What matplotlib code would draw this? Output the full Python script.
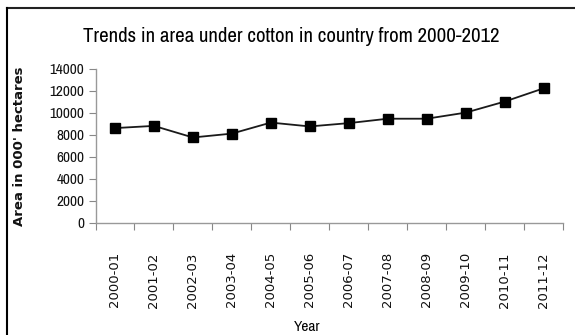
import matplotlib
matplotlib.use("Agg")
import matplotlib.pyplot as plt
from matplotlib.lines import Line2D

years = ["2000-01", "2001-02", "2002-03", "2003-04", "2004-05", "2005-06",
         "2006-07", "2007-08", "2008-09", "2009-10", "2010-11", "2011-12"]
area = [8600, 8800, 7750, 8100, 9100, 8750, 9050, 9450, 9450, 10000, 11000, 12200]
yticks = [0, 2000, 4000, 6000, 8000, 10000, 12000, 14000]

narrow = ["Archivo Narrow", "Roboto Condensed", "DejaVu Sans"]

W, H = 575, 335
fig = plt.figure(figsize=(W / 100, H / 100), dpi=100)
ax = fig.add_axes([95.5 / W, 1 - 223 / H, (563 - 95.5) / W, (223 - 68.5) / H])

x = list(range(len(years)))
ax.plot(x, area, color="#1a1a1a", lw=1.3, marker="s", ms=7.5,
        mfc="black", mec="black")

ax.set_xlim(-0.5, len(years) - 0.5)
ax.set_ylim(0, 14000)
ax.set_yticks(yticks)
ax.set_yticklabels([str(v) for v in yticks], fontfamily=narrow, fontsize=11,
                   color="#111111")
ax.set_xticks([i - 0.5 for i in range(len(years) + 1)], minor=False)
ax.set_xticklabels([])
ax.set_xticks(x, minor=True)
ax.set_xticklabels(years, minor=True, rotation=90, fontfamily="DejaVu Sans",
                   fontsize=9.5, color="#111111")
ax.tick_params(axis="x", which="minor", length=0, pad=21)
ax.tick_params(axis="x", which="major", length=5, color="#888888", direction="out")
ax.tick_params(axis="y", length=5, color="#888888", pad=3)

for s in ["top", "right"]:
    ax.spines[s].set_visible(False)
for s in ["left", "bottom"]:
    ax.spines[s].set_color("#999999")
    ax.spines[s].set_linewidth(1)

fig.text(291 / W, 1 - 36 / H, "Trends in area under cotton in country from 2000-2012",
         ha="center", va="center", fontfamily=narrow, fontsize=15)
fig.text(20 / W, 1 - 146 / H, "Area in 000' hectares", rotation=90,
         ha="center", va="center", fontfamily="DejaVu Sans", fontsize=9.5,
         fontweight="bold", color="#111111")
fig.text(307 / W, 1 - 327 / H, "Year", ha="center", va="center",
         fontfamily=narrow, fontsize=11)

fig.add_artist(Line2D([6.5 / W, 1], [1 - 7.5 / H, 1 - 7.5 / H],
                      transform=fig.transFigure, color="#222222", lw=1.5))
fig.add_artist(Line2D([6.5 / W, 6.5 / W], [0, 1 - 7.5 / H],
                      transform=fig.transFigure, color="black", lw=1.5))

fig.savefig("out.png", dpi=100)
